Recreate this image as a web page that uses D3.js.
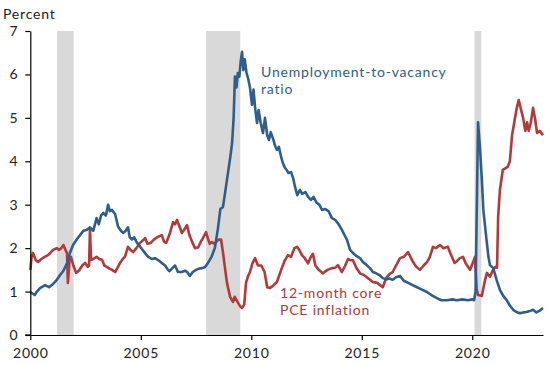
<!DOCTYPE html>
<html><head><meta charset="utf-8">
<script src="https://cdn.jsdelivr.net/npm/d3@7"></script>
<style>
body{margin:0;background:#fff;}
svg text{font-family:Lato, "Open Sans", sans-serif;letter-spacing:0.8px;}
</style></head>
<body><svg id="c" width="550" height="365"></svg>
<script>
const xTicks = [2000, 2005, 2010, 2015, 2020];
const yTicks = [0, 1, 2, 3, 4, 5, 6, 7];
const recessionStarts = [2001.21, 2007.95, 2020.1];
const recessionEnds = [2001.96, 2009.5, 2020.41];

const uvDates = [2000.0,2000.2,2000.3,2000.44,2000.67,2000.85,2000.98,2001.2,2001.35,2001.5,2001.66,2001.8,2001.94,2002.1,2002.25,2002.4,2002.55,2002.7,2002.85,2003.0,2003.1,2003.2,2003.3,2003.42,2003.52,2003.6,2003.7,2003.84,2003.97,2004.1,2004.2,2004.32,2004.42,2004.5,2004.6,2004.7,2004.83,2004.95,2005.05,2005.2,2005.34,2005.5,2005.64,2005.8,2005.95,2006.1,2006.23,2006.3,2006.45,2006.55,2006.68,2006.85,2007.0,2007.1,2007.22,2007.35,2007.5,2007.65,2007.77,2007.9,2008.04,2008.2,2008.35,2008.49,2008.6,2008.72,2008.85,2008.95,2009.05,2009.13,2009.2,2009.26,2009.33,2009.39,2009.46,2009.52,2009.58,2009.64,2009.7,2009.78,2009.86,2009.94,2010.03,2010.1,2010.18,2010.26,2010.33,2010.42,2010.53,2010.62,2010.72,2010.8,2010.88,2011.0,2011.08,2011.16,2011.25,2011.35,2011.43,2011.52,2011.6,2011.68,2011.8,2011.9,2011.98,2012.08,2012.2,2012.3,2012.45,2012.57,2012.7,2012.82,2012.95,2013.08,2013.2,2013.35,2013.5,2013.65,2013.8,2013.95,2014.1,2014.22,2014.33,2014.47,2014.6,2014.75,2014.92,2015.05,2015.2,2015.37,2015.5,2015.65,2015.8,2015.95,2016.1,2016.25,2016.4,2016.55,2016.73,2016.9,2017.1,2017.3,2017.5,2017.7,2017.95,2018.15,2018.4,2018.6,2018.85,2019.1,2019.3,2019.55,2019.8,2020.0,2020.08,2020.15,2020.26,2020.35,2020.43,2020.5,2020.6,2020.66,2020.73,2020.8,2020.95,2021.1,2021.25,2021.4,2021.55,2021.7,2021.85,2022.0,2022.15,2022.3,2022.45,2022.6,2022.75,2022.9,2023.05,2023.2];
const uvRatio = [0.99,0.92,1.0,1.08,1.15,1.1,1.15,1.27,1.38,1.48,1.65,1.9,2.08,2.2,2.3,2.4,2.42,2.48,2.4,2.69,2.55,2.75,2.81,2.75,3.0,2.85,2.88,2.78,2.5,2.4,2.35,2.4,2.48,2.25,2.2,2.25,2.12,2.05,1.98,1.88,1.8,1.75,1.77,1.72,1.66,1.6,1.5,1.47,1.55,1.6,1.45,1.45,1.48,1.45,1.36,1.45,1.5,1.53,1.54,1.56,1.66,1.8,2.0,2.45,2.9,2.95,3.4,3.75,4.1,4.42,5.0,5.95,5.7,6.03,5.95,6.3,6.52,6.1,6.35,6.05,5.9,5.7,5.3,5.65,5.2,4.88,5.18,4.9,4.65,5.0,4.6,4.49,4.67,4.5,4.35,4.26,4.33,4.1,3.96,3.85,3.8,3.73,3.75,3.6,3.41,3.22,3.34,3.25,3.29,3.18,3.11,3.18,3.05,3.0,2.88,2.9,2.85,2.69,2.65,2.55,2.42,2.3,2.19,1.96,1.89,1.82,1.77,1.68,1.62,1.54,1.45,1.42,1.38,1.31,1.28,1.3,1.27,1.33,1.36,1.25,1.2,1.15,1.1,1.05,0.99,0.92,0.85,0.8,0.8,0.82,0.8,0.82,0.8,0.82,0.8,1.0,4.9,4.3,3.6,2.88,2.4,2.12,1.8,1.61,1.54,1.27,1.04,0.9,0.81,0.68,0.58,0.53,0.5,0.52,0.53,0.55,0.58,0.52,0.56,0.62];

const pceDates = [2000.0,2000.06,2000.12,2000.25,2000.35,2000.5,2000.65,2000.8,2000.92,2001.03,2001.2,2001.3,2001.4,2001.5,2001.6,2001.66,2001.7,2001.78,2001.84,2001.95,2002.07,2002.2,2002.35,2002.48,2002.6,2002.66,2002.7,2002.75,2002.85,2003.0,2003.12,2003.25,2003.35,2003.46,2003.58,2003.7,2003.84,2003.95,2004.06,2004.18,2004.28,2004.42,2004.55,2004.65,2004.8,2004.96,2005.1,2005.2,2005.3,2005.45,2005.6,2005.77,2005.95,2006.05,2006.15,2006.32,2006.46,2006.55,2006.64,2006.75,2006.86,2007.0,2007.09,2007.2,2007.32,2007.45,2007.6,2007.72,2007.81,2007.95,2008.05,2008.12,2008.22,2008.35,2008.49,2008.63,2008.72,2008.82,2008.9,2009.04,2009.17,2009.25,2009.4,2009.5,2009.58,2009.68,2009.76,2009.85,2009.94,2010.05,2010.17,2010.3,2010.45,2010.6,2010.72,2010.85,2010.95,2011.16,2011.35,2011.5,2011.66,2011.8,2011.95,2012.07,2012.18,2012.29,2012.4,2012.57,2012.7,2012.79,2012.9,2013.05,2013.24,2013.45,2013.65,2013.8,2013.92,2014.1,2014.25,2014.38,2014.5,2014.6,2014.75,2014.92,2015.1,2015.3,2015.5,2015.7,2015.95,2016.1,2016.25,2016.4,2016.55,2016.73,2016.9,2017.09,2017.2,2017.32,2017.45,2017.63,2017.8,2017.95,2018.08,2018.22,2018.35,2018.54,2018.7,2018.9,2019.0,2019.2,2019.3,2019.44,2019.58,2019.7,2019.9,2020.05,2020.12,2020.2,2020.26,2020.43,2020.55,2020.66,2020.8,2020.94,2021.05,2021.12,2021.17,2021.25,2021.38,2021.6,2021.7,2021.8,2021.9,2022.0,2022.1,2022.2,2022.3,2022.4,2022.48,2022.55,2022.65,2022.75,2022.85,2022.93,2023.05,2023.2];
const pceInflation = [1.5,1.8,1.89,1.72,1.68,1.75,1.8,1.84,1.9,1.96,2.0,1.96,2.0,2.07,1.95,1.89,1.2,1.75,1.8,1.6,1.43,1.48,1.6,1.66,1.57,1.6,2.45,1.73,1.75,1.8,1.75,1.73,1.6,1.57,1.53,1.5,1.45,1.55,1.66,1.75,1.8,2.03,1.95,1.91,2.0,2.12,2.18,2.23,2.1,2.12,2.2,2.26,2.3,2.15,2.12,2.35,2.6,2.55,2.65,2.5,2.35,2.45,2.53,2.3,2.15,2.0,2.02,2.15,2.23,2.37,2.2,2.1,2.14,2.1,2.19,2.2,1.9,1.5,1.2,0.88,0.76,0.88,0.74,0.66,0.62,0.7,1.2,1.35,1.45,1.65,1.77,1.6,1.6,1.45,1.1,1.08,1.12,1.22,1.5,1.7,1.84,1.8,2.0,2.03,1.95,1.84,1.78,1.65,1.8,1.87,1.6,1.5,1.42,1.5,1.54,1.55,1.61,1.45,1.6,1.75,1.72,1.72,1.55,1.42,1.38,1.3,1.22,1.2,1.1,1.31,1.4,1.45,1.6,1.77,1.8,1.91,1.8,1.68,1.58,1.5,1.6,1.68,1.8,2.03,2.0,2.07,2.0,2.03,1.89,1.66,1.7,1.77,1.8,1.65,1.5,1.7,1.8,1.05,0.92,0.9,1.2,1.43,1.34,1.5,1.57,1.55,2.72,3.34,3.8,3.87,4.0,4.6,4.9,5.2,5.41,5.2,5.0,4.7,4.9,4.7,4.9,5.23,4.95,4.65,4.7,4.6];

const svg = d3.select("#c");
const x = d3.scaleLinear().domain([2000, 2023.2]).range([30.3, 543]);
const y = d3.scaleLinear().domain([0, 7]).range([335, 31]);

// recession shading
svg.append("g").selectAll("rect").data(recessionStarts).join("rect")
  .attr("x", (d) => x(d)).attr("y", y(7))
  .attr("width", (d, i) => x(recessionEnds[i]) - x(d))
  .attr("height", y(0) - y(7)).attr("fill", "#d9d9d9");

const line = d3.line().x(d => x(d[0])).y(d => y(d[1]));
const uv = uvDates.map((d, i) => [d, uvRatio[i]]);
const pce = pceDates.map((d, i) => [d, pceInflation[i]]);

svg.append("path").datum(pce).attr("d", line).attr("fill", "none")
  .attr("stroke", "#b5383a").attr("stroke-width", 2.6).attr("stroke-linejoin", "round");
svg.append("path").datum(uv).attr("d", line).attr("fill", "none")
  .attr("stroke", "#2e5e8c").attr("stroke-width", 2.6).attr("stroke-linejoin", "round");

// axes
const yAxis = svg.append("g").attr("transform", "translate(30.3,0)")
  .call(d3.axisLeft(y).tickValues(yTicks).tickFormat(d3.format("d")).tickSize(5).tickSizeOuter(0).tickPadding(7));
const xAxis = svg.append("g").attr("transform", "translate(0,335)")
  .call(d3.axisBottom(x).tickValues(xTicks).tickFormat(d3.format("d")).tickSize(5).tickSizeOuter(0).tickPadding(8));
[yAxis, xAxis].forEach(g => {
  g.selectAll("path.domain").attr("stroke", "#000").attr("stroke-width", 1.2);
  g.selectAll(".tick line").attr("stroke", "#000").attr("stroke-width", 1.2);
  g.selectAll("text").attr("fill", "#222").style("font-size", "14px");
});
// extend x axis line to left tick end
svg.append("line").attr("x1", 25).attr("x2", 30.3).attr("y1", 335).attr("y2", 335).attr("stroke", "#000").attr("stroke-width", 1.2);

svg.append("text").attr("x", 3).attr("y", 19).text("Percent").attr("fill", "#222").style("font-size", "14px");

const uvLabel = svg.append("text").attr("fill", "#2e5e8c").style("font-size", "14px");
uvLabel.append("tspan").attr("x", 261).attr("y", 77).text("Unemployment-to-vacancy");
uvLabel.append("tspan").attr("x", 261).attr("y", 94).text("ratio");
const pceLabel = svg.append("text").attr("fill", "#b5383a").style("font-size", "14px");
pceLabel.append("tspan").attr("x", 280).attr("y", 298).text("12-month core");
pceLabel.append("tspan").attr("x", 280).attr("y", 315).text("PCE inflation");
</script></body></html>
